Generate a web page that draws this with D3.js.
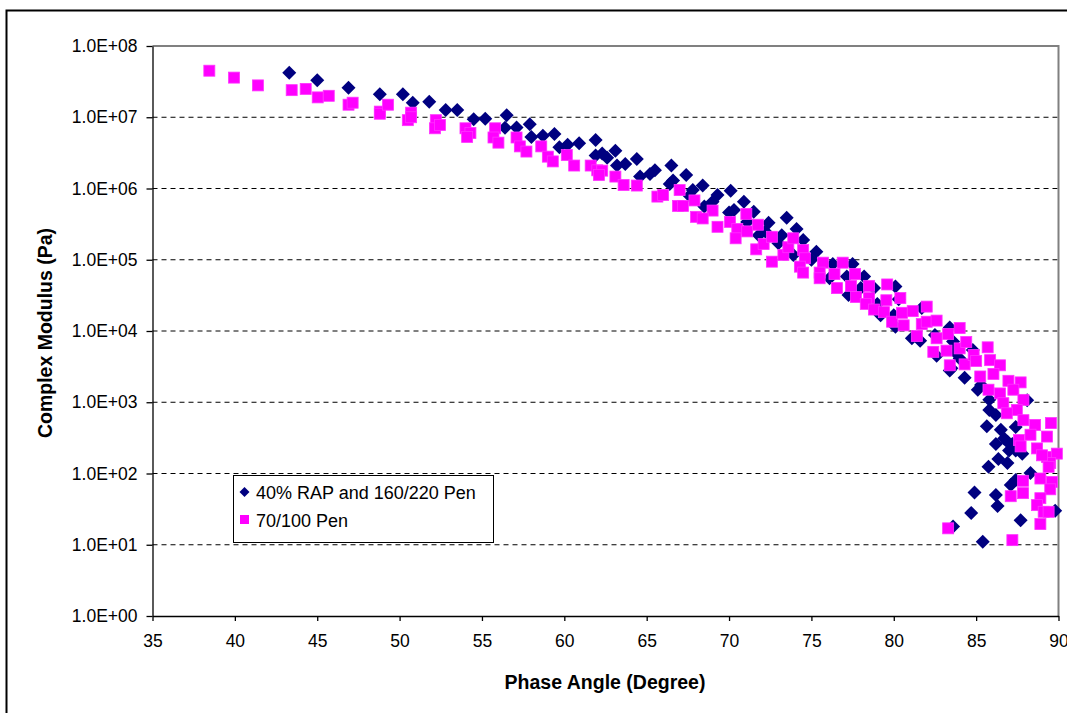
<!DOCTYPE html>
<html>
<head>
<meta charset="utf-8">
<script src="https://cdn.jsdelivr.net/npm/d3@7"></script>
<style>
  html, body { margin: 0; padding: 0; background: #fff; }
  svg { display: block; font-family: "Liberation Sans", Arial, sans-serif; }
</style>
</head>
<body>
<svg id="chart" width="1067" height="713"></svg>
<script>
// ---- Data ----
const xTicks = [35, 40, 45, 50, 55, 60, 65, 70, 75, 80, 85, 90];
const yTicks = [1, 1e1, 1e2, 1e3, 1e4, 1e5, 1e6, 1e7, 1e8];
const yTickLabels = ["1.0E+00", "1.0E+01", "1.0E+02", "1.0E+03", "1.0E+04", "1.0E+05", "1.0E+06", "1.0E+07", "1.0E+08"];
const seriesNames = ["40% RAP and 160/220 Pen", "70/100 Pen"];

const ragPhase = [43.3,45.0,46.9,48.8,50.2,50.8,51.8,52.8,53.5,54.5,55.2,56.5,56.4,57.1,57.9,58.0,58.7,59.4,59.7,60.2,
  60.9,61.9,61.9,62.3,62.6,63.1,63.2,63.7,64.4,64.6,65.2,65.5,66.5,66.6,66.4,67.4,67.8,67.6,68.4,69.3,
  68.5,69.0,70.1,70.9,70.3,70.0,71.5,71.1,72.4,71.8,72.2,73.5,74.1,73.2,73.0,74.5,73.9,75.3,75.0,76.3,
  77.5,76.1,77.15,78.2,78.0,77.25,78.8,80.1,79.0,79.2,80.3,81.7,80.0,80.1,81.1,81.6,82.5,83.4,83.6,83.7,
  82.6,84.0,83.4,84.8,83.5,84.3,85.1,85.3,85.8,85.8,86.2,85.65,86.5,86.2,87.4,86.7,87.2,87.0,87.8,86.35,
  86.9,85.75,88.1,86.9,87.4,88.3,87.1,87.4,84.9,86.2,86.3,84.7,89.8,87.7,83.6,85.4];
const ragModulus = [4.2e7,3.3e7,2.6e7,2.1e7,2.1e7,1.6e7,1.65e7,1.26e7,1.26e7,9.4e6,9.5e6,1.07e7,7.1e6,7.2e6,8.0e6,5.3e6,5.5e6,5.8e6,3.8e6,4.1e6,
  4.3e6,4.8e6,2.9e6,3.1e6,2.7e6,3.4e6,2.1e6,2.2e6,2.6e6,1.47e6,1.6e6,1.8e6,2.1e6,1.3e6,1.16e6,1.55e6,9.5e5,7.9e5,1.1e6,8.1e5,
  5.6e5,6.5e5,9.3e5,6.5e5,5.0e5,4.6e5,4.7e5,3.4e5,3.3e5,2.2e5,2.5e5,3.9e5,2.7e5,2.2e5,1.7e5,1.9e5,1.17e5,1.3e5,1.0e5,8.7e4,
  8.7e4,5.5e4,5.8e4,5.8e4,4.0e4,3.2e4,4.0e4,4.2e4,2.4e4,1.67e4,2.8e4,2.1e4,1.67e4,1.15e4,7.9e3,7.3e3,8.8e3,1.12e4,7.1e3,5.1e3,
  4.5e3,4.1e3,2.8e3,5.4e3,3.0e3,2.2e3,1.5e3,1.75e3,1.08e3,7.8e2,6.6e2,4.6e2,4.1e2,2.6e2,4.5e2,3.1e2,2.6e2,2.1e2,1.9e2,1.6e2,
  1.4e2,1.24e2,1.07e3,2.8e2,2.1e2,1.02e2,69,81,54,50,35,28,30,22,18,11];

const penPhase = [38.45,39.95,41.4,43.45,44.3,45.03,45.7,46.9,47.15,48.8,48.8,49.3,50.5,50.7,50.7,52.2,52.15,52.45,54.0,54.3,
  54.1,55.8,55.7,56.0,57.1,57.3,57.7,58.6,59.0,59.3,60.15,60.6,61.6,62.0,62.3,62.1,63.1,63.6,64.4,65.65,
  66.0,67.0,66.9,67.2,67.9,69.0,68.0,68.4,69.3,70.06,70.5,70.4,71.05,71.1,71.75,71.65,72.1,72.6,72.6,73.3,
  73.6,73.9,74.5,74.6,74.3,74.5,75.7,75.5,75.5,76.4,76.55,76.9,77.4,77.65,77.7,78.5,78.5,78.3,78.8,79.6,
  79.55,79.4,80.4,79.9,80.5,81.15,80.6,82.0,81.4,81.7,82.0,82.6,82.6,83.3,84.0,82.4,83.2,84.0,84.4,83.4,
  84.3,84.85,85.0,85.7,85.85,86.45,85.25,86.05,85.75,86.96,87.7,86.45,87.26,86.65,87.87,87.47,86.86,87.87,88.58,89.54,
  87.6,88.3,89.3,88.7,89.3,89.9,89.5,87.7,89.0,89.4,88.9,87.85,89.6,89.5,87.85,87.1,88.9,88.7,89.1,89.4,
  88.9,83.3,87.2];
const penModulus = [4.5e7,3.6e7,2.8e7,2.4e7,2.5e7,1.9e7,2.0e7,1.5e7,1.6e7,1.2e7,1.12e7,1.5e7,9.1e6,1.16e7,1.0e7,9.1e6,7.0e6,7.8e6,7.0e6,6.0e6,
  5.3e6,7.0e6,5.2e6,4.4e6,5.2e6,3.9e6,3.3e6,3.9e6,2.8e6,2.4e6,2.95e6,2.1e6,2.1e6,1.8e6,1.78e6,1.55e6,1.47e6,1.12e6,1.1e6,7.7e5,
  8.1e5,9.5e5,5.7e5,5.7e5,6.8e5,4.9e5,4.0e5,3.8e5,2.9e5,3.4e5,2.7e5,2.0e5,4.4e5,2.5e5,3.1e5,1.4e5,1.66e5,2.1e5,9.4e4,1.17e5,
  1.5e5,2.0e5,1.37e5,1.05e5,8.0e4,6.6e4,9.1e4,6.6e4,5.5e4,6.3e4,4.0e4,9.1e4,4.3e4,6.3e4,3.0e4,4.3e4,2.9e4,2.4e4,2.0e4,4.5e4,
  2.7e4,1.84e4,2.9e4,1.35e4,1.8e4,1.9e4,1.2e4,2.2e4,8.5e3,1.25e4,1.35e4,1.4e4,7.9e3,9.1e3,1.1e4,5.1e3,5.3e3,5.7e3,7.0e3,3.3e3,
  3.4e3,4.6e3,3.8e3,5.9e3,3.9e3,3.3e3,2.3e3,2.5e3,1.5e3,2.0e3,1.9e3,1.33e3,1.5e3,9.7e2,1.08e3,7.8e2,7.0e2,5.6e2,4.8e2,5.1e2,
  2.95e2,3.5e2,3.3e2,2.25e2,1.7e2,1.9e2,1.4e2,2.4e2,1.8e2,1.24e2,85,79,76,60,53,48,45,36,29,29,
  19.5,17,11.6];

// ---- Layout ----
const svg = d3.select("#chart");
const L = 152.5, R = 1058.5, T = 46, B = 616;
const x = d3.scaleLinear().domain([35, 90]).range([L, R]);
const y = d3.scaleLog().domain([1, 1e8]).range([B, T]);
const font = '"Liberation Sans", Arial, sans-serif';

// outer frame
svg.append("path").attr("d", `M6.5,713 V10.5 H1067`).attr("fill", "none")
  .attr("stroke", "#000").attr("stroke-width", 2);

// gridlines
svg.append("g").selectAll("line").data(yTicks.filter(v => v > 1 && v < 1e8)).join("line")
  .attr("x1", L).attr("x2", R).attr("y1", d => y(d)).attr("y2", d => y(d))
  .attr("stroke", "#000").attr("stroke-width", 1).attr("stroke-dasharray", "5,4");

// plot border top/right (gray)
svg.append("path").attr("d", `M${L},${T} H${R} V${B}`).attr("fill", "none")
  .attr("stroke", "#808080").attr("stroke-width", 2);

// axes
const xAxis = d3.axisBottom(x).tickValues(xTicks).tickFormat(d3.format("d")).tickSizeInner(5).tickSizeOuter(0).tickPadding(14);
const gx = svg.append("g").attr("transform", `translate(0,${B})`).call(xAxis);
gx.selectAll("text").attr("font-size", 17.5).attr("font-family", font).attr("fill", "#000");
gx.selectAll("line,path").attr("stroke", "#000").attr("stroke-width", 1.3);

const yAxis = d3.axisLeft(y).tickValues(yTicks).tickFormat((d, i) => yTickLabels[i]).tickSizeInner(6).tickSizeOuter(0).tickPadding(9);
const gy = svg.append("g").attr("transform", `translate(${L},0)`).call(yAxis);
gy.selectAll("text").attr("font-size", 17.5).attr("font-family", font).attr("fill", "#000");
gy.selectAll("line,path").attr("stroke", "#000").attr("stroke-width", 1.3);

// axis titles
svg.append("text").attr("x", 605).attr("y", 689).attr("text-anchor", "middle")
  .attr("font-size", 19.5).attr("font-weight", "bold").attr("font-family", font)
  .text("Phase Angle (Degree)");
svg.append("text").attr("transform", `translate(52,333) rotate(-90)`).attr("text-anchor", "middle")
  .attr("font-size", 19.5).attr("font-weight", "bold").attr("font-family", font)
  .text("Complex Modulus (Pa)");

// markers
const diamond = s => `M0,${-s}L${s},0L0,${s}L${-s},0Z`;
const ragData = ragPhase.map((p, i) => [p, ragModulus[i]]);
const penData = penPhase.map((p, i) => [p, penModulus[i]]);

svg.append("g").selectAll("path").data(ragData).join("path")
  .attr("transform", d => `translate(${x(d[0])},${y(d[1])})`)
  .attr("d", diamond(7)).attr("fill", "#000080");

svg.append("g").selectAll("rect").data(penData).join("rect")
  .attr("x", d => x(d[0]) - 5.5).attr("y", d => y(d[1]) - 5.5)
  .attr("width", 11).attr("height", 11)
  .attr("fill", "#FF00FF").attr("stroke", "#FF33FF").attr("stroke-width", 0.8);

// legend
const lg = svg.append("g");
lg.append("rect").attr("x", 233.5).attr("y", 475.5).attr("width", 260).attr("height", 67)
  .attr("fill", "#fff").attr("stroke", "#000").attr("stroke-width", 1);
lg.append("path").attr("transform", "translate(244.5,492)").attr("d", diamond(5)).attr("fill", "#000080");
lg.append("rect").attr("x", 240).attr("y", 515).attr("width", 9).attr("height", 9).attr("fill", "#FF00FF");
lg.append("text").attr("x", 256).attr("y", 498.5).attr("font-size", 18).attr("font-family", font).text(seriesNames[0]);
lg.append("text").attr("x", 256).attr("y", 526.5).attr("font-size", 18).attr("font-family", font).text(seriesNames[1]);
</script>
</body>
</html>
